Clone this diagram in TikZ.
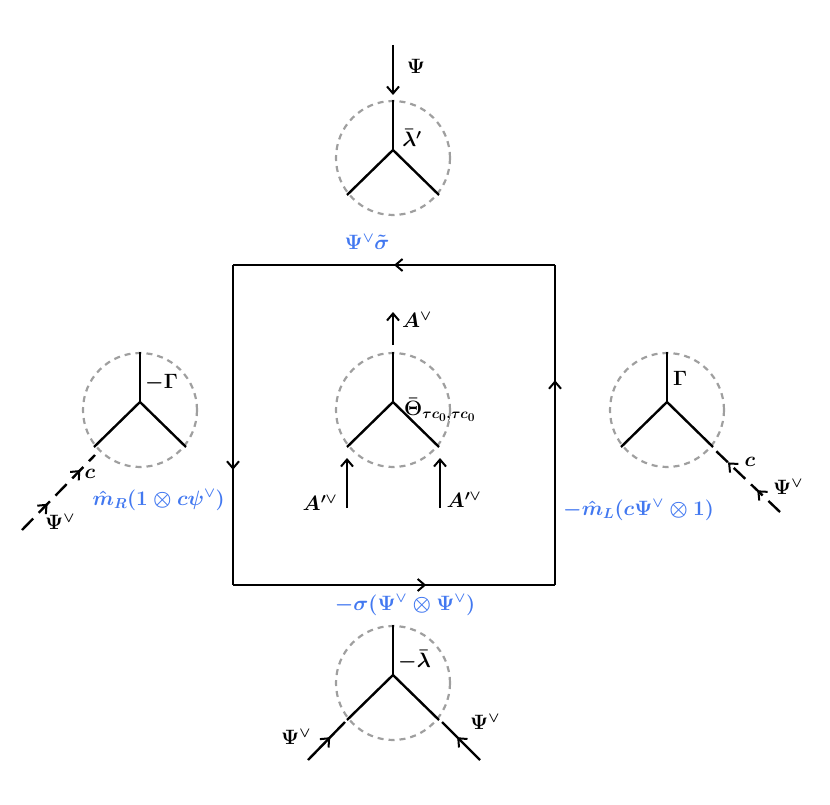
\documentclass[tikz,border=0pt]{standalone}
\usetikzlibrary{decorations.markings,arrows.meta}
\definecolor{lblue}{RGB}{66,120,240}
\tikzset{
  blob/.style={draw=gray!75,line width=2.2pt,dash pattern=on 6pt off 5pt},
  leg/.style={line width=2.4pt},
  midarrow/.style={leg,postaction={decorate},decoration={markings,mark=at position #1 with {\arrow{>}}}},
  ghostleg/.style={leg,dash pattern=on 16pt off 8pt,postaction={solid,decorate},
    decoration={markings,mark=at position 0.35 with {\arrow{>}},mark=at position 0.8 with {\arrow{>}}}},
  lab/.style={font=\huge\boldmath,inner sep=1pt},
  blab/.style={font=\huge\boldmath,text=lblue,inner sep=1pt}
}
\begin{document}
\begin{tikzpicture}[x=1pt,y=-1pt,>={Straight Barb[length=7pt,width=12pt,line width=2pt]}]
\useasboundingbox (0,0) rectangle (830,805);

% vertices
\foreach \n/\x/\y in {top/393/158, mid/393/410, lft/140/410, rgt/667/410, bot/393/683}{
  \coordinate (\n) at (\x,\y-8);
  \draw[blob] (\x,\y) circle (57);
  \draw[leg] (\n) -- ++(0,-50);
  \draw[leg] (\n) -- ++(-46,45);
  \draw[leg] (\n) -- ++(46,45);
}

% outer square
\coordinate (sq1) at (233,265);
\coordinate (sq2) at (555,265);
\coordinate (sq3) at (555,585);
\coordinate (sq4) at (233,585);
\draw[midarrow=0.5] (sq2) -- (sq1);
\draw[midarrow=0.64] (sq1) -- (sq4);
\draw[midarrow=0.6] (sq4) -- (sq3);
\draw[midarrow=0.64] (sq3) -- (sq2);

% external legs
\coordinate (tin) at (393,45);
\draw[leg,->] (tin) -- (393,95);
\draw[leg,->] (mid) ++(0,-57) -- ++(0,-33);
\draw[leg,->] (347,508) -- (347,458);
\draw[leg,->] (440,508) -- (440,458);
\draw[ghostleg] (22,530) -- (95,455);
\draw[ghostleg] (780,512) -- (715,450);
\draw[midarrow=0.6] (308,760) -- (345,722);
\draw[midarrow=0.6] (480,760) -- (442,722);

% labels
\node[lab] (lPsi) at (416,66) {$\Psi$};
\node[lab] (lLam) at (412,138) {$\bar\lambda'$};
\node[lab,anchor=west] (lA) at (401,320) {$A^\vee$};
\node[lab,anchor=west] (lTh) at (403,410) {$\bar\Theta_{\tau c_0,\tau c_0}$};
\node[lab] (lA1) at (320,503) {$A'^\vee$};
\node[lab] (lA2) at (464,500) {$A'^\vee$};
\node[lab,anchor=west] (lmG) at (144,383) {$-\Gamma$};
\node[lab,anchor=west] (lG) at (672,378) {$\Gamma$};
\node[lab,anchor=west] (lmL) at (397,660) {$-\bar\lambda$};
\node[lab] (lb1) at (296,737) {$\Psi^\vee$};
\node[lab] (lb2) at (485,722) {$\Psi^\vee$};
\node[lab] (lc1) at (90,474) {$c$};
\node[lab] (lc2) at (750,462) {$c$};
\node[lab] (lp1) at (60,522) {$\Psi^\vee$};
\node[lab] (lp2) at (788,487) {$\Psi^\vee$};

\node[blab] (eTop) at (367,242) {$\Psi^\vee\tilde\sigma$};
\node[blab,anchor=east] (eLft) at (226,500) {$\hat m_R(1\otimes c\psi^\vee)$};
\node[blab,anchor=west] (eRgt) at (562,510) {$-\hat m_L(c\Psi^\vee\otimes 1)$};
\node[blab] (eBot) at (405,605) {$-\sigma(\Psi^\vee\otimes\Psi^\vee)$};
\end{tikzpicture}
\end{document}
